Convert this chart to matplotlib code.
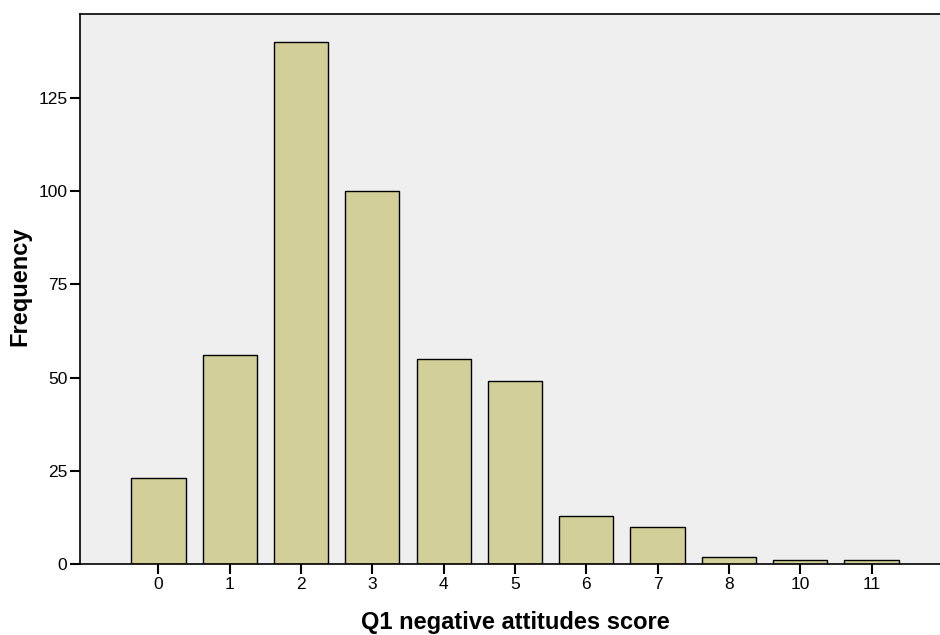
import matplotlib.pyplot as plt

plt.rcParams['font.family'] = ['Liberation Sans', 'DejaVu Sans']

# Q1 negative attitudes score frequencies
scores = ['0', '1', '2', '3', '4', '5', '6', '7', '8', '10', '11']
freq = [23, 56, 140, 100, 55, 49, 13, 10, 2, 1, 1]

fig = plt.figure(figsize=(9.4, 6.35), dpi=100)
ax = fig.add_axes([0.0851, 0.1118, 0.9255, 0.8662])
ax.set_facecolor('#efefef')

pos = range(len(scores))
ax.bar(pos, freq, width=0.76, color='#d3cf98', edgecolor='black', linewidth=1.0)

ax.set_xlim(-1.1, len(scores) - 1 + 1.1)
ax.set_ylim(0, 147.5)
ax.set_xticks(list(pos))
ax.set_xticklabels(scores)
ax.set_yticks([0, 25, 50, 75, 100, 125])

for s in ['left', 'bottom', 'top', 'right']:
    ax.spines[s].set_linewidth(1.2)
ax.tick_params(axis='both', direction='out', length=7, width=1.5, labelsize=12.5, pad=2)

# axis titles placed in figure coords so they stay inside the canvas
fig.text(515 / 940, 1 - 622 / 635, 'Q1 negative attitudes score',
         fontsize=17, fontweight='bold', ha='center', va='center')
fig.text(20 / 940, 1 - 286 / 635, 'Frequency', rotation=90,
         fontsize=17, fontweight='bold', ha='center', va='center')

fig.savefig('out.png', dpi=100)
